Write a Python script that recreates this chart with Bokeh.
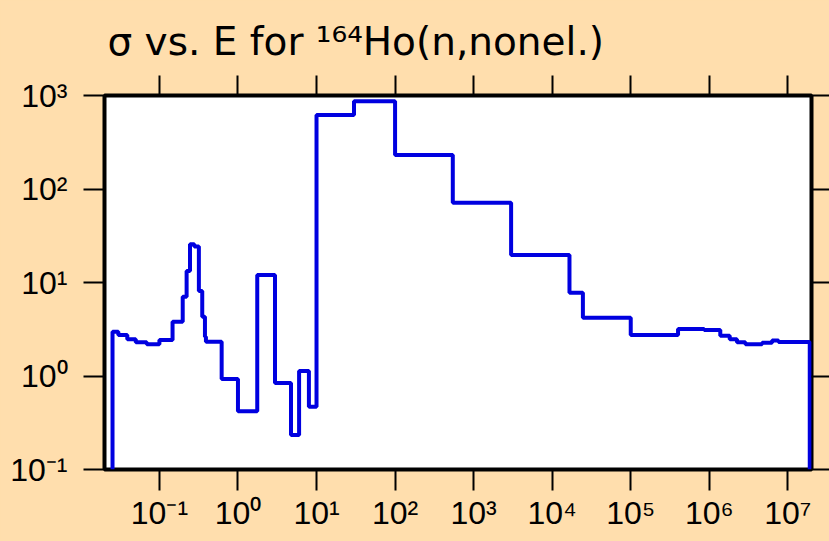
import numpy as np
from bokeh.plotting import figure
from bokeh.models import (FixedTicker, LogAxis, Range1d, CustomJSTickFormatter,
                          GlobalInlineStyleSheet)
from bokeh.embed import file_html
from bokeh.resources import INLINE

# ---- data: group boundaries (eV) and cross sections (b) ----
edges = [0.0253, 0.030, 0.039, 0.050, 0.069, 0.10, 0.147, 0.198, 0.222, 0.245, 0.278,
         0.318, 0.351, 0.380, 0.391, 0.62, 1.0, 1.76, 2.96, 4.73, 6.0, 8.0, 10.0, 30.0,
         100.0, 543.0, 3000.0, 16600.0, 24600.0, 1.0e5, 4.0e5, 8.6e5, 1.38e6, 1.82e6,
         2.25e6, 2.88e6, 4.7e6, 6.3e6, 7.6e6, 1.9e7]
sigma = [2.98, 2.75, 2.47, 2.29, 2.18, 2.43, 3.81, 7.05, 13.3, 25.6, 24.2, 8.1, 4.3, 2.63,
         2.33, 0.93, 0.42, 12.0, 0.84, 0.234, 1.13, 0.47, 618.0, 870.0, 231.0, 71.4, 19.7,
         7.78, 4.2, 2.75, 3.18, 3.10, 2.70, 2.47, 2.29, 2.18, 2.27, 2.39, 2.31]

x_ticks = [0.1, 1.0, 10.0, 100.0, 1e3, 1e4, 1e5, 1e6, 1e7]
x_labels = ["10⁻¹", "10⁰", "10¹", "10²", "10³", "10⁴", "10⁵", "10⁶", "10⁷"]
y_ticks = [0.1, 1.0, 10.0, 100.0, 1000.0]
y_labels = ["10⁻¹", "10⁰", "10¹", "10²", "10³"]
x_lo, x_hi = 0.02, 2.0e7
y_lo, y_hi = 0.1, 1000.0

title_text = "σ vs. E for ¹⁶⁴Ho(n,nonel.)"

BG = "#FFDEAD"
FONT = "Liberation Sans"
TITLE_FONT = "DejaVu Sans"

p = figure(width=829, height=541, x_axis_type="log", y_axis_type="log",
           x_range=Range1d(x_lo, x_hi), y_range=Range1d(y_lo, y_hi),
           output_backend="svg", toolbar_location=None,
           min_border_left=104, min_border_right=18, min_border_top=95, min_border_bottom=72,
           background_fill_color="white", border_fill_color=BG)
p.stylesheets = [GlobalInlineStyleSheet(css="html, body { background: %s; }" % BG)]
p.grid.visible = False
p.outline_line_color = "black"
p.outline_line_width = 4

# step path built from the group data
x_path = np.repeat(np.array(edges, dtype=float), 2)
y_path = np.concatenate([[y_lo], np.repeat(np.array(sigma, dtype=float), 2), [y_lo]])
p.line(x_path, y_path, line_color="#0000E0", line_width=4)

blank = CustomJSTickFormatter(code="return '';")


def label_fmt(tvals, tlabels):
    return CustomJSTickFormatter(args=dict(tvals=tvals, tlabels=tlabels), code="""
        for (let i = 0; i < tvals.length; i++) {
            if (Math.abs(Math.log10(tick) - Math.log10(tvals[i])) < 1e-6) return tlabels[i];
        }
        return '';
    """)


def style_axis(ax, tick_list, out, fmt=None, standoff=0):
    ax.ticker = FixedTicker(ticks=tick_list, minor_ticks=[])
    ax.axis_line_color = None
    ax.major_tick_in = 0
    ax.major_tick_out = out
    ax.major_tick_line_width = 2
    ax.major_tick_line_color = "black"
    ax.minor_tick_line_color = None
    if fmt is None:
        ax.formatter = blank
        ax.major_label_text_font_size = "0px"
        ax.major_label_standoff = 0
    else:
        ax.formatter = fmt
        ax.major_label_text_font = FONT
        ax.major_label_text_font_size = "32px"
        ax.major_label_text_color = "black"
        ax.major_label_standoff = standoff


style_axis(p.xaxis[0], x_ticks, 21, label_fmt(x_ticks, x_labels), standoff=4)
style_axis(p.yaxis[0], y_ticks, 21, label_fmt(y_ticks, y_labels), standoff=16)
top = LogAxis()
style_axis(top, x_ticks, 20)
p.add_layout(top, "above")
right = LogAxis()
style_axis(right, y_ticks, 18)
p.add_layout(right, "right")

p.title.text = title_text
p.title.text_font = TITLE_FONT
p.title.text_font_size = "39px"
p.title.text_font_style = "normal"
p.title.text_color = "black"
p.title.align = "left"
p.title.offset = 3
p.title.standoff = 24

open("out.html", "w").write(file_html(p, INLINE))
